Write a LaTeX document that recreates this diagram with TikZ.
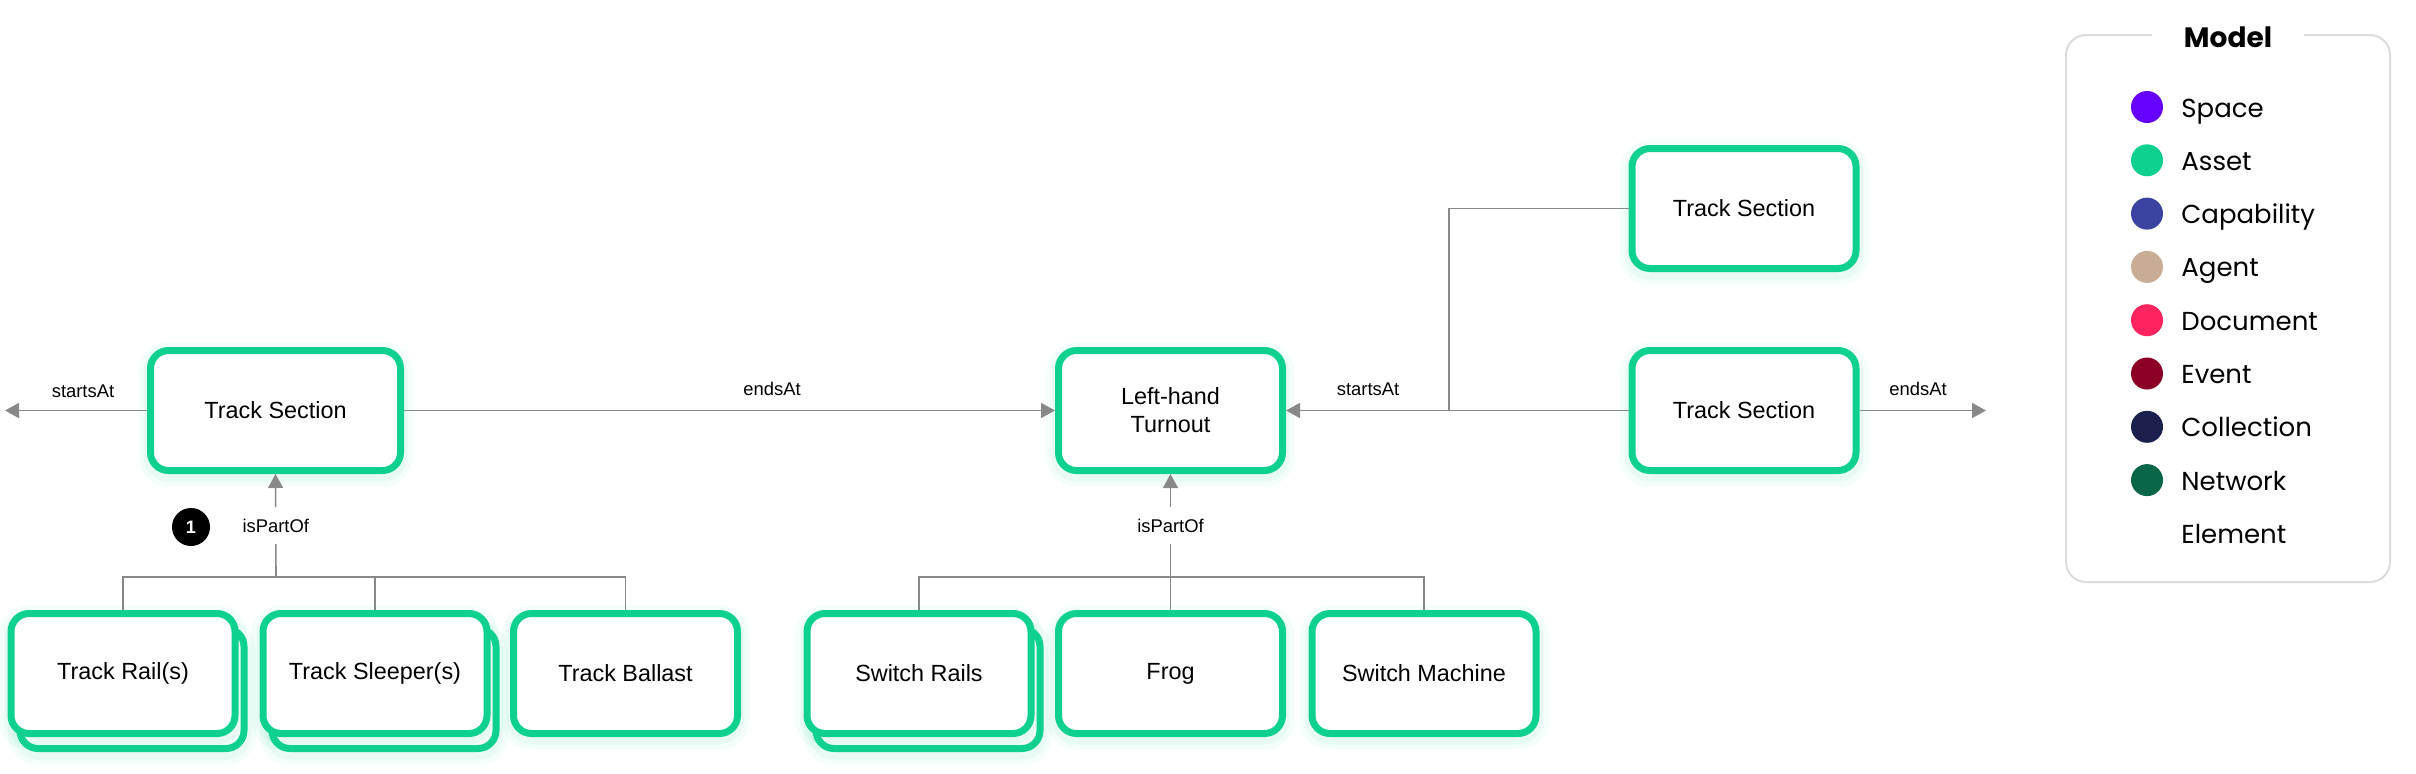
\documentclass[tikz,border=0pt]{standalone}
\usepackage{fontspec}
\setmainfont{Liberation Sans}
\newfontfamily\legfont{Poppins}
\usetikzlibrary{arrows.meta}
\definecolor{asset}{RGB}{14,209,143}
\definecolor{conncol}{RGB}{136,136,136}
\definecolor{cspace}{RGB}{102,0,255}
\definecolor{casset}{RGB}{14,209,143}
\definecolor{ccap}{RGB}{58,68,160}
\definecolor{cagent}{RGB}{201,172,148}
\definecolor{cdoc}{RGB}{255,36,96}
\definecolor{cevent}{RGB}{140,0,38}
\definecolor{ccoll}{RGB}{27,31,78}
\definecolor{cnet}{RGB}{10,102,72}
\begin{document}
\begin{tikzpicture}[x=0.5pt,y=-0.5pt,
  box/.style={draw=asset, line width=3.5pt, rounded corners=9pt, fill=white,
    minimum width=112pt, minimum height=60pt, align=center, inner sep=2pt,
    font=\fontsize{11.7}{14}\selectfont,
    preaction={draw=asset, draw opacity=0.05, line width=12pt, transform canvas={yshift=-2pt}},
    preaction={draw=asset, draw opacity=0.05, line width=7pt, transform canvas={yshift=-2pt}}},
  conn/.style={draw=conncol, line width=0.8pt},
  arr/.style={conn, -{Triangle[length=7pt,width=7.5pt]}},
  lbl/.style={font=\fontsize{9.2}{11}\selectfont, inner sep=1pt},
  plbl/.style={font=\fontsize{9.2}{11}\selectfont, fill=white, inner xsep=2pt, inner ysep=6pt},
  badge/.style={circle, fill=black, text=white, minimum size=19pt, inner sep=0pt, font=\bfseries\fontsize{9}{10}\selectfont},
  legtext/.style={anchor=base west, inner sep=0pt, font=\legfont\fontsize{13}{15}\selectfont},
]
\useasboundingbox (0,0) rectangle (2416,773);

% top row
\node[box, minimum width=125pt] (ts1) at (275.5,410.5) {Track Section};
\node[box] (turn) at (1170.5,410.5) {Left-hand\\Turnout};
\node[box] (ts2) at (1744,208.5) {Track Section};
\node[box] (ts3) at (1744,410.5) {Track Section};

% bottom row left
\node[box] (railB) at (132,688.5) {};
\node[box] (rail) at (123,673.5) {Track Rail(s)};
\node[box] (sleepB) at (384,688.5) {};
\node[box] (sleep) at (375,673.5) {Track Sleeper(s)};
\node[box] (ballast) at (625.5,673.5) {Track Ballast};

% bottom row right
\node[box] (swrB) at (928,688.5) {};
\node[box] (swr) at (919,673.5) {Switch Rails};
\node[box] (frog) at (1170.5,673.5) {Frog};
\node[box] (swm) at (1424,673.5) {Switch Machine};

% coordinates
\coordinate (startL) at (5,410.5);
\coordinate (endR) at (1986,410.5);
\coordinate (jn) at (1449,410.5);
\coordinate (barL) at (276,577);
\coordinate (barR) at (1170.5,577);

% horizontal connectors
\draw[arr] (ts1.west) -- (startL);
\node[lbl] (lStart1) at (83,391) {startsAt};
\draw[arr] (ts1.east) -- (turn.west);
\node[lbl] (lEnd1) at (772,389) {endsAt};
\draw[arr] (ts3.west) -- (turn.east);
\node[lbl] (lStart2) at (1368,389) {startsAt};
\draw[conn] (ts2.west) -| (jn);
\draw[arr] (ts3.east) -- (endR);
\node[lbl] (lEnd2) at (1918,389) {endsAt};

% isPartOf left
\draw[conn] (rail.north) -- (rail.north |- barL) -- (ballast.north |- barL) -- (ballast.north);
\draw[conn] (sleep.north) -- (sleep.north |- barL);
\draw[arr] (barL) -- (ts1.south) node[plbl, pos=0.5] (lPart1) {isPartOf};
\node[badge] (b1) at (191,527) {1};

% isPartOf right
\draw[conn] (swr.north) -- (swr.north |- barR) -- (swm.north |- barR) -- (swm.north);
\draw[conn] (frog.north) -- (barR);
\draw[arr] (barR) -- (turn.south) node[plbl, pos=0.5] (lPart2) {isPartOf};

% legend
\draw[draw=black!14, line width=1pt, rounded corners=10pt] (2066,35) rectangle (2390,582);
\node[fill=white, inner xsep=16pt, inner ysep=2pt, font=\legfont\bfseries\fontsize{14}{16}\selectfont] (legtitle) at (2228,37) {Model};
\foreach \c/\t [count=\i from 0] in {cspace/Space, casset/Asset, ccap/Capability, cagent/Agent, cdoc/Document, cevent/Event, ccoll/Collection, cnet/Network} {
  \fill[\c] (2147,107+53.3*\i) circle (8pt);
  \node[legtext] (leg\i) at (2181,117+53.3*\i) {\t};
}
\node[legtext] (leg8) at (2181,543.4) {Element};
\end{tikzpicture}
\end{document}
